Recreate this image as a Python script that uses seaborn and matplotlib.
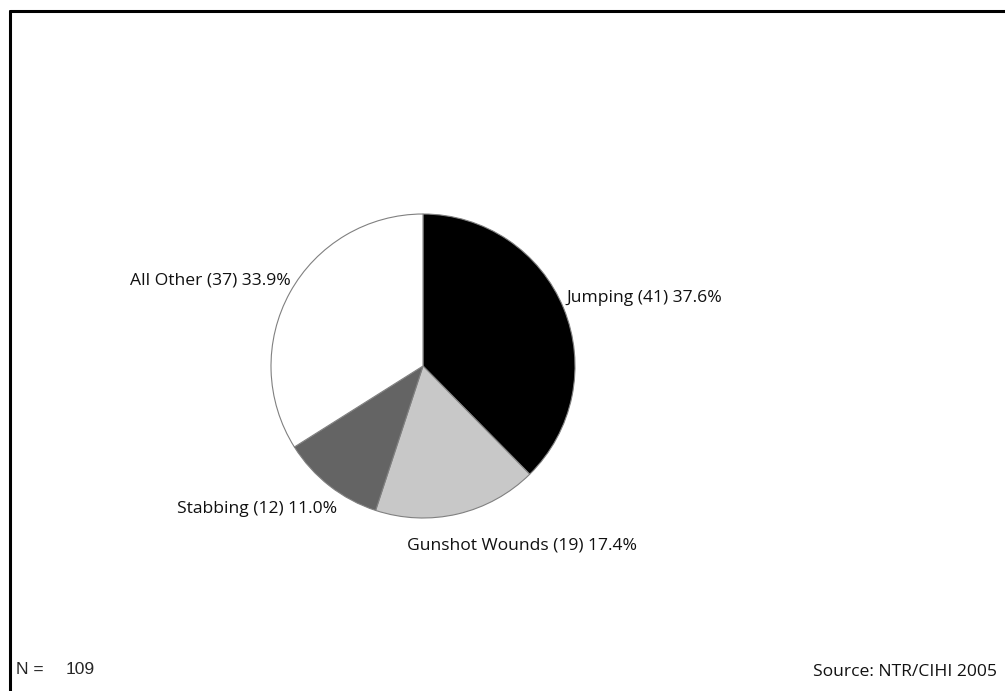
import matplotlib
matplotlib.use("Agg")
import matplotlib.pyplot as plt
import seaborn as sns
from matplotlib.lines import Line2D

categories = ["Jumping", "Gunshot Wounds", "Stabbing", "All Other"]
counts = [41, 19, 12, 37]
percents = [37.6, 17.4, 11.0, 33.9]
colors = ["#000000", "#c8c8c8", "#646464", "#ffffff"]
n_total = 109
source = "Source: NTR/CIHI 2005"

sns.set_style("white")
plt.rcParams["font.family"] = ["Open Sans", "DejaVu Sans"]

fig = plt.figure(figsize=(10.05, 6.91), dpi=100)
ax = fig.add_axes([0, 0, 1, 1])

ax.pie(counts, colors=colors, startangle=90, counterclock=False,
       center=(423, 325), radius=152,
       wedgeprops=dict(edgecolor="#808080", linewidth=0.8))
ax.set_xlim(0, 1005)
ax.set_ylim(0, 691)
ax.set_aspect("equal")
ax.axis("off")

labels = [f"{c} ({n}) {p:.1f}%" for c, n, p in zip(categories, counts, percents)]
# label anchor positions (x, y, ha)
label_pos = [(566, 393, "left"), (407, 145, "left"), (337, 182, "right"), (291, 411, "right")]
for lab, (x, y, ha) in zip(labels, label_pos):
    ax.text(x, y, lab, ha=ha, va="center", fontsize=12.6, color="#111111")

ax.text(16, 21, "N =", ha="left", va="center", fontsize=12.5,
        family=["Liberation Sans", "DejaVu Sans"])
ax.text(66, 21, str(n_total), ha="left", va="center", fontsize=12.5,
        family=["Liberation Sans", "DejaVu Sans"])
ax.text(997, 19, source, ha="right", va="center", fontsize=12.6, color="#111111")

# partial frame: top and left only
fig.add_artist(Line2D([10 / 1005, 1], [1 - 10.5 / 691, 1 - 10.5 / 691],
                      transform=fig.transFigure, color="black", linewidth=2.2))
fig.add_artist(Line2D([10 / 1005, 10 / 1005], [0, 1 - 10.5 / 691],
                      transform=fig.transFigure, color="black", linewidth=2.2))

fig.savefig("out.png", dpi=100)
